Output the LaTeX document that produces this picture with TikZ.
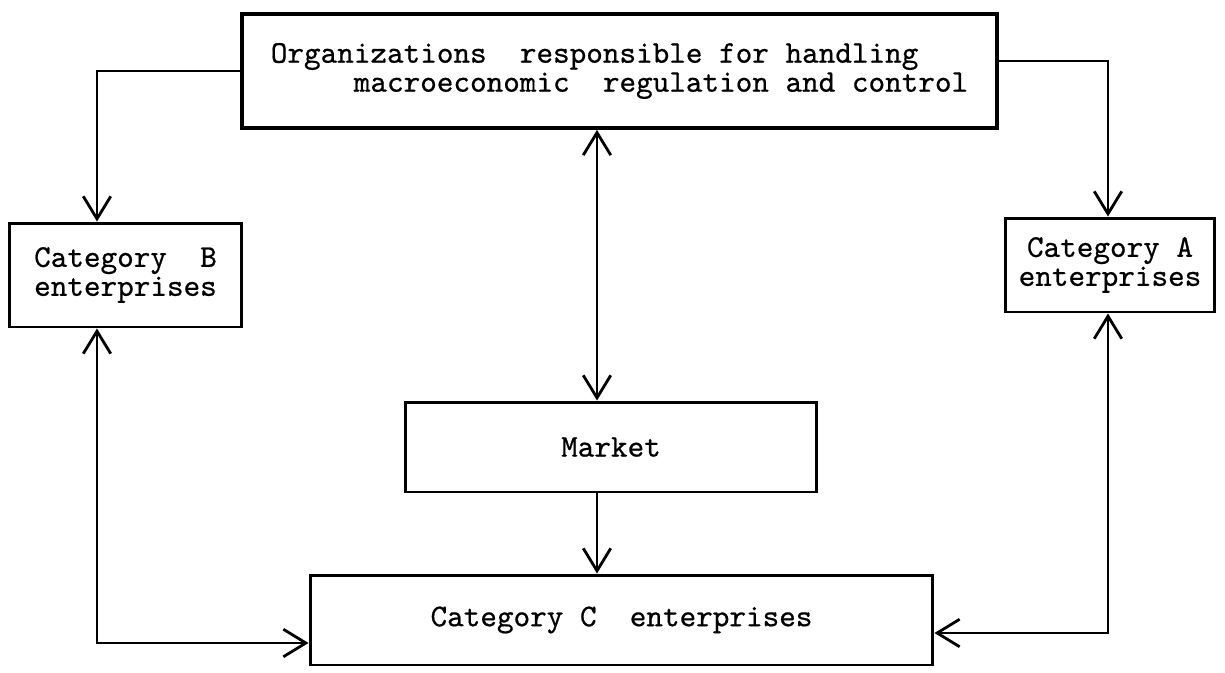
\documentclass[tikz,border=0pt]{standalone}
\usepackage{fontspec}
\usetikzlibrary{arrows.meta}

\newfontfamily\typewriter[FakeBold=0.6]{lmmono10-regular.otf}

\begin{document}
\begin{tikzpicture}[
  x=0.02cm, y=-0.02cm,
  box/.style={draw, line width=1.7pt, align=center, inner sep=0pt, font=\typewriter\fontsize{18}{16.5}\selectfont},
  arrow/.style={-{Straight Barb[length=4.5mm, width=5.5mm]}, line width=1.6pt},
  twoway/.style={{Straight Barb[length=4.5mm, width=5.5mm]}-{Straight Barb[length=4.5mm, width=5.5mm]}, line width=1.6pt}
  ]
\useasboundingbox (0,0) rectangle (1225,673);

% Boxes
\node[box, align=left, line width=2.2pt, minimum width=15.1cm, minimum height=2.28cm] (org) at (619.5,71) {Organizations\ \ responsible for handling\\\hspace*{2.625em}macroeconomic\ \ regulation and control};
\node[box, minimum width=4.66cm, minimum height=2.08cm] (catB) at (125.5,275) {Category\ \ B\\enterprises};
\node[box, minimum width=4.2cm, minimum height=1.88cm] (catA) at (1110,265) {Category A\\enterprises};
\node[box, minimum width=8.24cm, minimum height=1.8cm] (market) at (611,447) {Market};
\node[box, minimum width=12.46cm, minimum height=1.8cm] (catC) at (621.5,620) {Category C\ \ enterprises};

% Columns the connectors run along
\coordinate (lcol) at (97,0);
\coordinate (mcol) at (597,0);
\coordinate (rcol) at (1108,0);

% Arrows
\draw[arrow] (org.west) -| (catB.north -| lcol);
\draw[arrow] ([yshift=0.2cm]org.east) -| (catA.north -| rcol);
\draw[twoway] (org.south -| mcol) -- (market.north -| mcol);
\draw[arrow] (market.south -| mcol) -- (catC.north -| mcol);
\draw[twoway] (catB.south -| lcol) |- ([yshift=-0.46cm]catC.west);
\draw[twoway] (catA.south -| rcol) |- ([yshift=-0.26cm]catC.east);

\end{tikzpicture}
\end{document}
